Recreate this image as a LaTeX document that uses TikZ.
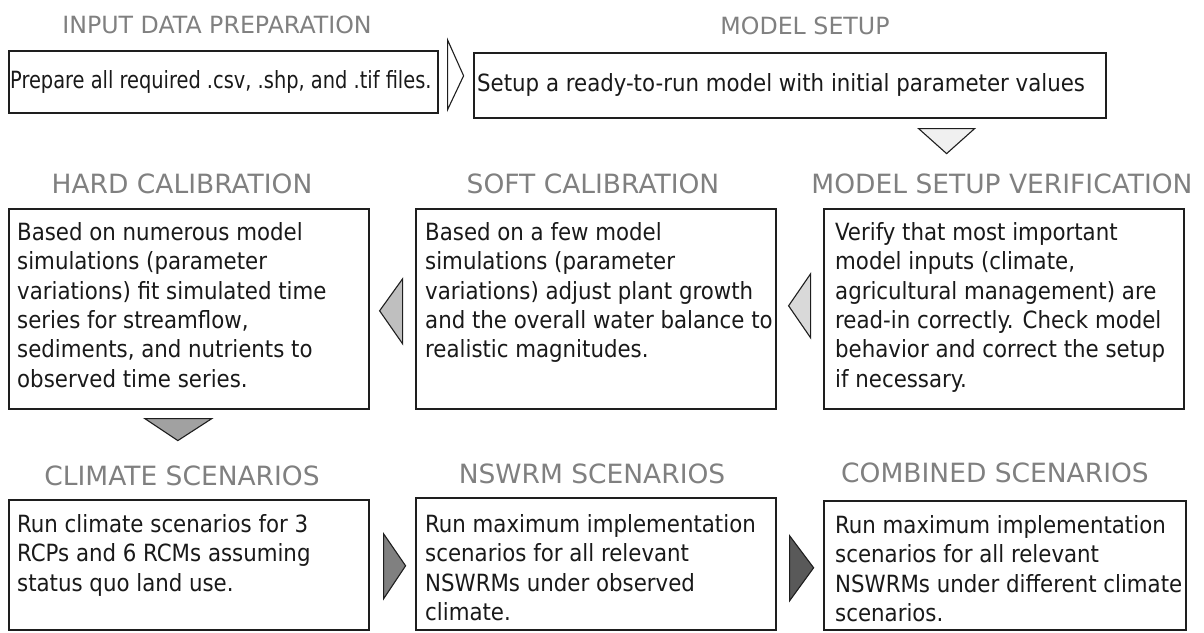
\documentclass[tikz,border=0pt]{standalone}
\usepackage{fontspec}
\setmainfont{DejaVu Sans Condensed}
\newfontfamily\headfont{DejaVu Sans}
\usetikzlibrary{calc}
\definecolor{titlegray}{HTML}{808080}
\definecolor{inkline}{HTML}{1E1E1E}
\tikzset{
  panel/.style 2 args={draw=inkline, line width=1.6pt, anchor=north west,
    inner sep=0pt, minimum width=#1, minimum height=#2},
  stagetitle/.style={anchor=base, inner sep=0pt, text=titlegray,
    font=\headfont\fontsize{26.5}{32}\selectfont},
  toptitle/.style={stagetitle, font=\headfont\fontsize{23.7}{29}\selectfont},
  bodytext/.style={anchor=north west, inner sep=0pt, align=left, text=black!90,
    font=\fontsize{23.7}{29.4}\selectfont},
  flowmark/.style={draw=inkline, line width=1.1pt, line join=miter, fill=#1},
}
\begin{document}
\begin{tikzpicture}[x=1pt,y=-1pt]
\useasboundingbox (0,0) rectangle (1204,632);

% stage boxes
\node[panel={429pt}{62pt}]  (prep)     at (8,50)    {};
\node[panel={632pt}{65pt}]  (setup)    at (473,52)  {};
\node[panel={360pt}{200pt}] (hard)     at (8,208)   {};
\node[panel={360pt}{200pt}] (soft)     at (415,208) {};
\node[panel={360pt}{200pt}] (verif)    at (823,208) {};
\node[panel={360pt}{130pt}] (climate)  at (8,499)   {};
\node[panel={360pt}{132pt}] (nswrm)    at (415,497) {};
\node[panel={362pt}{129pt}] (combined) at (823,500) {};

% stage titles
\node[toptitle]   (tprep)     at (217,33)  {INPUT DATA PREPARATION};
\node[toptitle]   (tsetup)    at (805,34)  {MODEL SETUP};
\node[stagetitle] (thard)     at (182,193) {HARD CALIBRATION};
\node[stagetitle] (tsoft)     at (593,193) {SOFT CALIBRATION};
\node[stagetitle] (tverif)    at (1002,193) {MODEL SETUP VERIFICATION};
\node[stagetitle] (tclimate)  at (182,485) {CLIMATE SCENARIOS};
\node[stagetitle] (tnswrm)    at (592,483) {NSWRM SCENARIOS};
\node[stagetitle] (tcombined) at (995,482) {COMBINED SCENARIOS};

% stage descriptions
\node[bodytext, anchor=west] (dprep) at ($(prep.west)+(2,0)$)
  {\scalebox{0.91}[1]{Prepare all required .csv, .shp, and .tif files.}};
\node[bodytext, anchor=west] (dsetup) at ($(setup.west)+(4,0)$)
  {Setup a ready-to-run model with initial parameter values};
\node[bodytext] (dhard) at ($(hard.north west)+(9,14)$)
  {Based on numerous model\\simulations (parameter\\variations) fit simulated time\\series for streamflow,\\sediments, and nutrients to\\observed time series.};
\node[bodytext] (dsoft) at ($(soft.north west)+(10,14)$)
  {Based on a few model\\simulations (parameter\\variations) adjust plant growth\\and the overall water balance to\\realistic magnitudes.};
\node[bodytext] (dverif) at ($(verif.north west)+(12,14)$)
  {Verify that most important\\model inputs (climate,\\agricultural management) are\\read-in correctly. Check model\\behavior and correct the setup\\if necessary.};
\node[bodytext] (dclimate) at ($(climate.north west)+(9,15)$)
  {Run climate scenarios for 3\\RCPs and 6 RCMs assuming\\status quo land use.};
\node[bodytext] (dnswrm) at ($(nswrm.north west)+(10,17)$)
  {Run maximum implementation\\scenarios for all relevant\\NSWRMs under observed\\climate.};
\node[bodytext] (dcombined) at ($(combined.north west)+(12,15)$)
  {Run maximum implementation\\scenarios for all relevant\\NSWRMs under different climate\\scenarios.};

% flow markers between stages
\draw[flowmark=white]
  ($(prep.north east)+(9,-10)$) -- ($(prep.south east)+(9,-4)$) -- ($(prep.east)+(25,-6)$) -- cycle;
\draw[flowmark=black!6]
  ($(setup.south east)+(-188,10)$) -- ($(setup.south east)+(-132,10)$) -- ($(setup.south east)+(-160,35)$) -- cycle;
\draw[flowmark=black!15]
  ($(soft.east)+(34,-35)$) -- ($(soft.east)+(34,29)$) -- ($(soft.east)+(12,-3)$) -- cycle;
\draw[flowmark=black!25]
  ($(hard.east)+(33,-30)$) -- ($(hard.east)+(33,35)$) -- ($(hard.east)+(10,2)$) -- cycle;
\draw[flowmark=black!37]
  ($(hard.south)+(-44,9)$) -- ($(hard.south)+(23,9)$) -- ($(hard.south)+(-11,31)$) -- cycle;
\draw[flowmark=black!50]
  ($(climate.east)+(14,-31)$) -- ($(climate.east)+(14,34)$) -- ($(climate.east)+(36,1)$) -- cycle;
\draw[flowmark=black!65]
  ($(nswrm.east)+(13,-28)$) -- ($(nswrm.east)+(13,37)$) -- ($(nswrm.east)+(37,4)$) -- cycle;
\end{tikzpicture}
\end{document}
